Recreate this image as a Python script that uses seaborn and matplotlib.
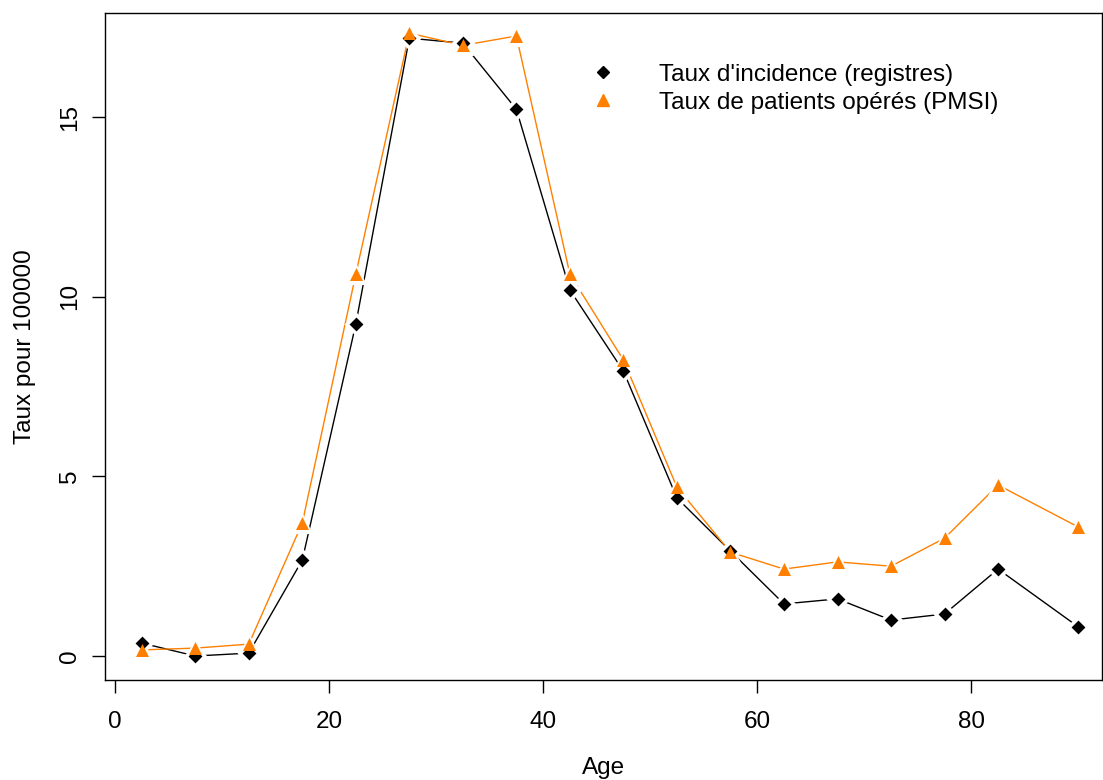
import numpy as np
import pandas as pd
import seaborn as sns
import matplotlib.pyplot as plt
from matplotlib.lines import Line2D

# Données
age = [2.5, 7.5, 12.5, 17.5, 22.5, 27.5, 32.5, 37.5, 42.5, 47.5,
       52.5, 57.5, 62.5, 67.5, 72.5, 77.5, 82.5, 90]
taux_registres = [0.36, 0.0, 0.08, 2.67, 9.24, 17.2, 17.06, 15.22, 10.19, 7.93,
                  4.40, 2.92, 1.45, 1.59, 1.0, 1.17, 2.42, 0.81]
taux_pmsi = [0.17, 0.22, 0.33, 3.70, 10.63, 17.34, 17.0, 17.26, 10.63, 8.24,
             4.70, 2.89, 2.42, 2.62, 2.50, 3.28, 4.76, 3.59]

lab_reg = "Taux d'incidence (registres)"
lab_pmsi = "Taux de patients opérés (PMSI)"

df = pd.concat([
    pd.DataFrame({"Age": age, "Taux": taux_registres, "serie": lab_reg}),
    pd.DataFrame({"Age": age, "Taux": taux_pmsi, "serie": lab_pmsi}),
])

couleurs = {lab_reg: "black", lab_pmsi: "#FF8000"}
marqueurs = {lab_reg: "D", lab_pmsi: "^"}
taille = {lab_reg: 50, lab_pmsi: 88}
halo = {lab_reg: 150, lab_pmsi: 230}

sns.set_style("ticks")
plt.rcParams["font.family"] = ["Liberation Sans", "DejaVu Sans"]
for k in ["text.color", "axes.labelcolor", "xtick.color", "ytick.color"]:
    plt.rcParams[k] = "black"

fig = plt.figure(figsize=(11.03, 7.8), dpi=100)
ax = fig.add_axes([0.0952, 0.1282, 0.9048 - 0.001, 0.8551])

# lignes
sns.lineplot(data=df, x="Age", y="Taux", hue="serie", palette=couleurs,
             linewidth=1.0, ax=ax, legend=False, sort=False, zorder=1)

# halo blanc pour imiter le style "b" de R (trous autour des points)
for serie in [lab_reg, lab_pmsi]:
    sub = df[df["serie"] == serie]
    sns.scatterplot(data=sub, x="Age", y="Taux", color="white",
                    marker=marqueurs[serie], s=halo[serie],
                    linewidth=0, ax=ax, legend=False, zorder=2)
for serie in [lab_reg, lab_pmsi]:
    sub = df[df["serie"] == serie]
    sns.scatterplot(data=sub, x="Age", y="Taux", color=couleurs[serie],
                    marker=marqueurs[serie], s=taille[serie],
                    linewidth=0, ax=ax, legend=False, zorder=3)

ax.set_xlim(-0.93, 92.2)
ax.set_ylim(-0.668, 17.9)
ax.set_xticks([0, 20, 40, 60, 80])
ax.set_yticks([0, 5, 10, 15])
ax.tick_params(direction="out", length=9.5, width=1, labelsize=17.5)
ax.tick_params(axis="x", pad=13)
ax.tick_params(axis="y", pad=8, labelrotation=90)
for lbl in ax.get_yticklabels():
    lbl.set_verticalalignment("center")
for sp in ax.spines.values():
    sp.set_visible(True)
    sp.set_linewidth(1)
    sp.set_color("black")

ax.set_xlabel("Age", fontsize=17.5)
ax.set_ylabel("Taux pour 100000", fontsize=17.5)
ax.xaxis.set_label_coords(0.5, -0.132)
ax.yaxis.set_label_coords(-0.080, 0.5)
ax.xaxis.label.set_verticalalignment("center")
ax.yaxis.label.set_verticalalignment("center")

handles = [
    Line2D([], [], linestyle="none", marker="D", color="black", markersize=6.5),
    Line2D([], [], linestyle="none", marker="^", color="#FF8000", markersize=9),
]
ax.legend(handles, [lab_reg, lab_pmsi], loc="upper left",
          bbox_to_anchor=(0.475, 0.924), frameon=False, fontsize=17.5,
          handletextpad=1.33, labelspacing=0.25, borderaxespad=0, borderpad=0)

fig.savefig("out.png", dpi=100)
